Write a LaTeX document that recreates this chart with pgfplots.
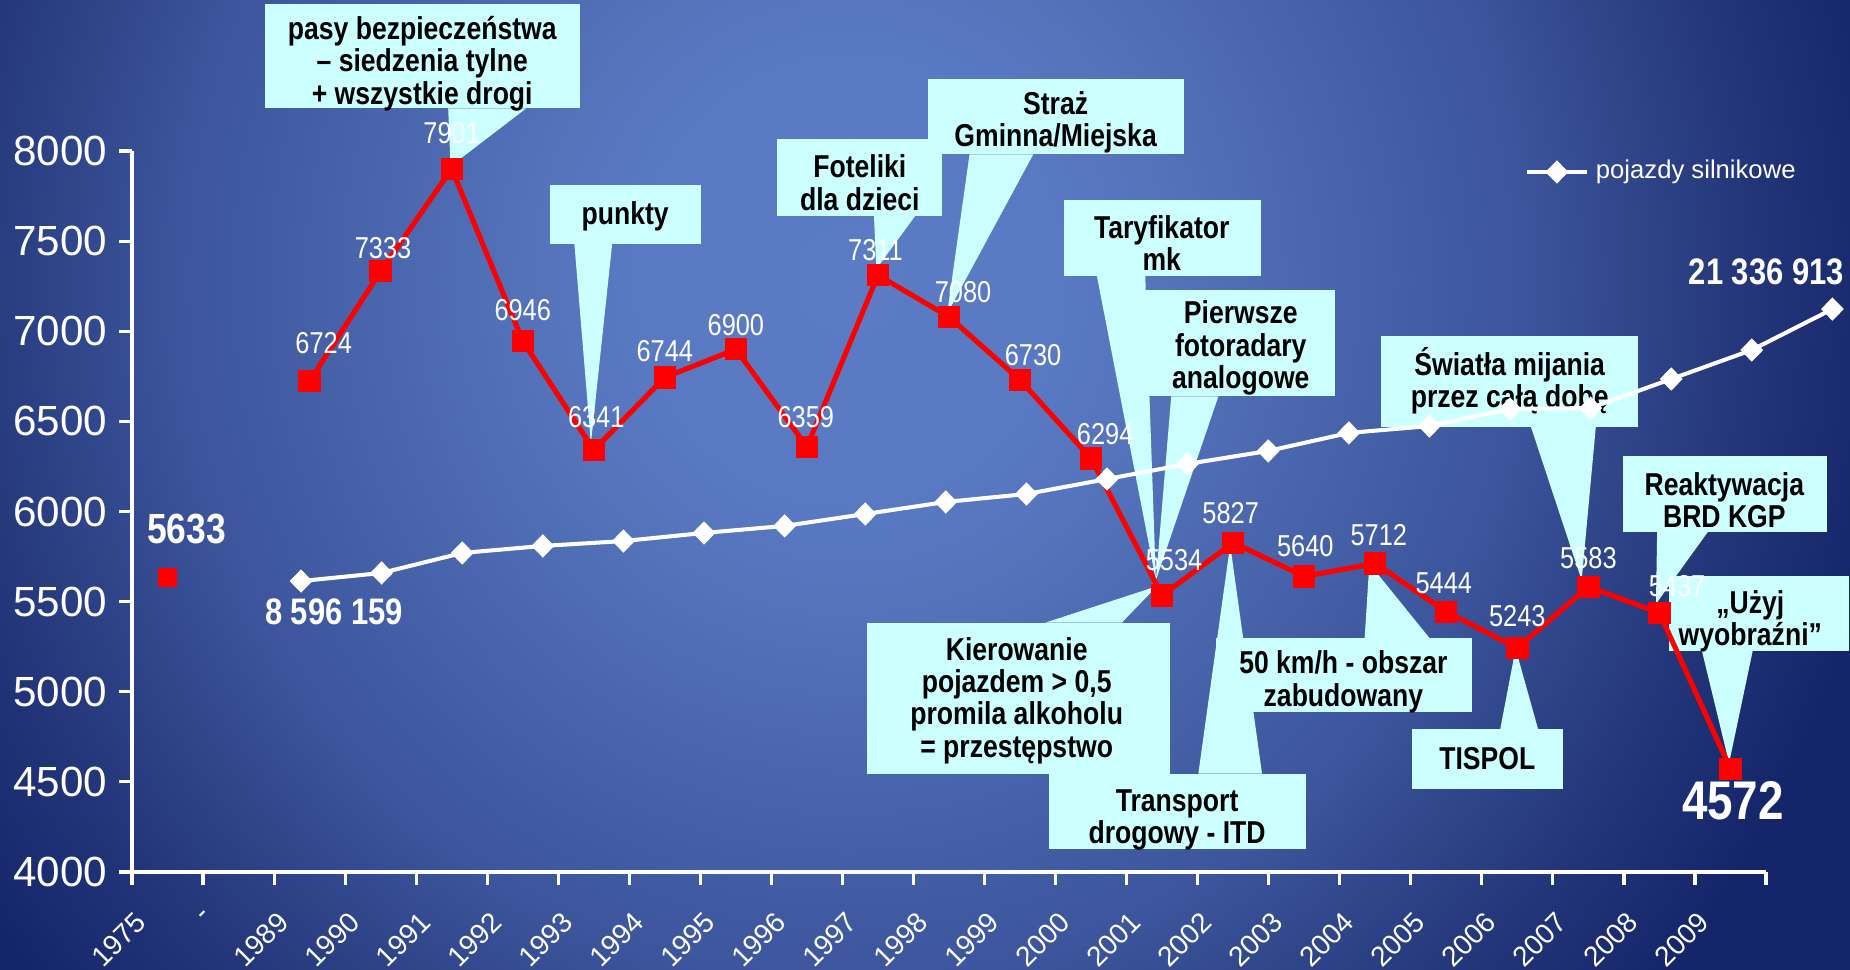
\documentclass[border=0pt]{standalone}
\usepackage{fontspec}
\setmainfont{Liberation Sans}
\newfontfamily\nar{Liberation Sans}[FakeStretch=0.84]
\usepackage{pgfplots}
\usepackage{pgfplotstable}
\pgfplotsset{compat=1.18}

\definecolor{c0}{HTML}{5B7CC5}
\definecolor{c1}{HTML}{5979C3}
\definecolor{c2}{HTML}{5473BB}
\definecolor{c3}{HTML}{3C559C}
\definecolor{c4}{HTML}{25387B}
\definecolor{c5}{HTML}{15256A}
\definecolor{callout}{HTML}{CCFFFF}
\pgfdeclareradialshading{bgshade}{\pgfpoint{0bp}{0bp}}{color(0bp)=(c0); color(5bp)=(c1); color(7.5bp)=(c2); color(16bp)=(c3); color(21bp)=(c4); color(25bp)=(c5); color(50bp)=(c5)}

% red series: slot, value
\pgfplotstableread{
x y
2 6724
3 7333
4 7901
5 6946
6 6341
7 6744
8 6900
9 6359
10 7311
11 7080
12 6730
13 6294
14 5534
15 5827
16 5640
17 5712
18 5444
19 5243
20 5583
21 5437
22 4572
}\redtab

\pgfplotstableread{
x y
0 5633
}\firsttab

% white series (pojazdy silnikowe), on its own x scale
\pgfplotstableread{
x y
0 5614
1 5659
2 5770
3 5809
4 5836
5 5881
6 5920
7 5986
8 6053
9 6097
10 6180
11 6264
12 6336
13 6436
14 6474
15 6569
16 6574
17 6735
18 6896
19 7123
}\whitetab

% data labels: slot, value, label shift x (pt), label shift y (pt)
\pgfplotstableread{
x y dx dy
2 6724 4.0 10.7
3 7333 0.7 6.7
4 7901 0.0 10.1
5 6946 0.0 8.7
6 6341 0.7 9.4
7 6744 0.0 7.4
8 6900 0.0 7.0
9 6359 -0.3 8.4
10 7311 -0.7 7.0
11 7080 4.0 7.0
12 6730 3.7 7.0
13 6294 4.0 7.0
14 5534 3.4 10.1
15 5827 -0.7 8.4
16 5640 0.3 8.7
17 5712 1.0 8.1
18 5444 -0.7 8.1
19 5243 0.0 9.1
20 5583 0.0 8.1
21 5437 5.0 7.7
}\labtab

\pgfplotsset{
  common/.style={
    at={(1.32cm,0.98cm)}, anchor=south west, scale only axis,
    width=16.34cm, height=7.21cm, ymin=4000, ymax=8000, clip=false,
  },
}

\tikzset{
  ctext/.style={font=\nar\bfseries\fontsize{9}{9.2}\selectfont, text=black, align=center, inner sep=0pt},
}

\begin{document}
\begin{tikzpicture}
% background
\fill[c5] (0,0) rectangle (18.5,9.7);
\begin{scope}
\clip (0,0) rectangle (18.5,9.7);
\shade[shading=bgshade] (8.5,6.9) ellipse (10.5cm and 11cm);
\end{scope}

% axis A: frame and ticks
\begin{axis}[common,
  xmin=-0.5, xmax=22.5,
  axis x line*=bottom, axis y line*=left,
  axis line style={white, line width=0.9pt, -},
  ytick={4000,4500,...,8000},
  xtick={-0.5,0.5,...,22.5},
  x tick label as interval,
  xticklabels={1975,-,1989,1990,1991,1992,1993,1994,1995,1996,1997,1998,1999,2000,2001,2002,2003,2004,2005,2006,2007,2008,2009},
  tick style={white, line width=0.9pt},
  tick align=outside, major tick length=3.6pt,
  /pgf/number format/assume math mode=true,
  /pgf/number format/1000 sep={},
  yticklabel style={font=\fontsize{12}{14}\selectfont, text=white},
  xticklabel style={font=\fontsize{8}{10}\selectfont, text=white, xshift=-9.5pt, yshift=-7pt, rotate=45, anchor=north east, inner sep=0pt},
]
\node[text=white, font=\nar\bfseries\fontsize{12}{14}\selectfont, xshift=5.4pt, yshift=13.8pt] at (axis cs:0,5633) {5633};
\node[text=white, font=\nar\bfseries\fontsize{15.5}{17}\selectfont, xshift=0.7pt, yshift=-9.1pt] at (axis cs:22,4572) {4572};
\end{axis}

% callouts (coordinates in reference pixels)
\begin{scope}[shift={(0cm,9.7cm)}, x=0.011798cm, y=-0.011798cm]
\fill[callout] (225,3) rectangle (492,92);
\fill[callout] (380,92) -- (446,92) -- (382,141) -- cycle;
\node[ctext] at (358,54) {pasy bezpieczeństwa\\– siedzenia tylne\\+ wszystkie drogi};

\fill[callout] (466,157) rectangle (594,207);
\fill[callout] (487,207) -- (519,207) -- (501,376) -- cycle;
\node[ctext] at (530,183) {punkty};

\fill[callout] (659,118) rectangle (799,183);
\fill[callout] (741,183) -- (776,183) -- (743,228) -- cycle;
\node[ctext] at (729,155) {Foteliki\\dla dzieci};

\fill[callout] (787,67) rectangle (1004,131);
\fill[callout] (822,131) -- (876,131) -- (803,266) -- cycle;
\node[ctext] at (895,104) {Straż\\Gminna/Miejska};

\fill[callout] (902,170) rectangle (1069,234);
\fill[callout] (930,234) -- (971,234) -- (980,492) -- cycle;
\node[ctext] at (985,206) {Taryfikator\\mk};

\fill[callout] (972,246) rectangle (1132,336);
\fill[callout] (993,336) -- (1033,336) -- (980,492) -- cycle;
\node[ctext] at (1052,295) {Pierwsze\\fotoradary\\analogowe};

\fill[callout] (735,528) rectangle (992,656);
\fill[callout] (886,528) -- (951,528) -- (981,497) -- cycle;
\node[ctext] at (862,594) {Kierowanie\\pojazdem > 0,5\\promila alkoholu\\= przestępstwo};

\fill[callout] (889,656) rectangle (1107,720);
\fill[callout] (1016,656) -- (1070,656) -- (1043,462) -- cycle;
\node[ctext] at (998,695) {Transport\\drogowy - ITD};

\fill[callout] (1031,541) rectangle (1248,604);
\fill[callout] (1157,541) -- (1212,541) -- (1161,478) -- cycle;
\node[ctext] at (1139,578) {50 km/h - obszar\\zabudowany};

\fill[callout] (1197,618) rectangle (1325,669);
\fill[callout] (1272,618) -- (1304,618) -- (1285,550) -- cycle;
\node[ctext] at (1261,643) {TISPOL};

\fill[callout] (1171,285) rectangle (1389,362);
\fill[callout] (1298,362) -- (1353,362) -- (1341,492) -- cycle;
\node[ctext] at (1280,323) {Światła mijania\\przez całą dobę};

\fill[callout] (1376,387) rectangle (1549,451);
\fill[callout] (1405,451) -- (1448,451) -- (1404,512) -- cycle;
\node[ctext] at (1462,424) {Reaktywacja\\BRD KGP};

\fill[callout] (1415,488) rectangle (1568,552);
\fill[callout] (1443,552) -- (1486,552) -- (1466,647) -- cycle;
\node[ctext] at (1484,527) {„Użyj\\wyobraźni”};
\end{scope}

% axis B: red series and its labels
\begin{axis}[common, hide axis, xmin=-0.5, xmax=22.5]
\addplot[draw=none, mark=none, nodes near coords, point meta=explicit symbolic,
  visualization depends on={\thisrow{dx} \as \dx},
  visualization depends on={\thisrow{dy} \as \dy},
  every node near coord/.append style={anchor=center, inner sep=0pt, text=white,
     font=\nar\fontsize{8.6}{10}\selectfont, xshift=\dx pt, yshift=\dy pt}]
  table[x=x, y=y, meta=y] {\labtab};
\addplot[only marks, mark=square*, mark size=2.45pt, mark options={fill=red, draw=red}] table[x=x,y=y] {\firsttab};
\addplot[red, line width=1.45pt, mark=square*, mark size=2.45pt, mark options={fill=red, draw=red, solid}] table[x=x,y=y] {\redtab};
\end{axis}

% axis C: white series (pojazdy silnikowe)
\begin{axis}[common, hide axis, xmin=-2.097, xmax=18.176,
  legend style={at={(0.852,0.9709)}, anchor=west, draw=none, fill=none, inner sep=0pt,
    text=white, font=\fontsize{7.3}{9}\selectfont},
  legend cell align=left,
]
\addplot[white, line width=1.15pt, mark=diamond*, mark size=2.5pt, mark options={fill=white, draw=white, solid, xscale=1.3}] table[x=x,y=y] {\whitetab};
\addlegendentry{pojazdy silnikowe}
\node[text=white, font=\nar\bfseries\fontsize{10.5}{12}\selectfont, xshift=9.4pt, yshift=-8.7pt] at (axis cs:0,5614) {8 596 159};
\node[text=white, font=\nar\bfseries\fontsize{10.5}{12}\selectfont, xshift=-18.8pt, yshift=10.7pt] at (axis cs:19,7123) {21 336 913};
\end{axis}

\pgfresetboundingbox
\useasboundingbox (0,0) rectangle (18.5,9.7);
\end{tikzpicture}
\end{document}
